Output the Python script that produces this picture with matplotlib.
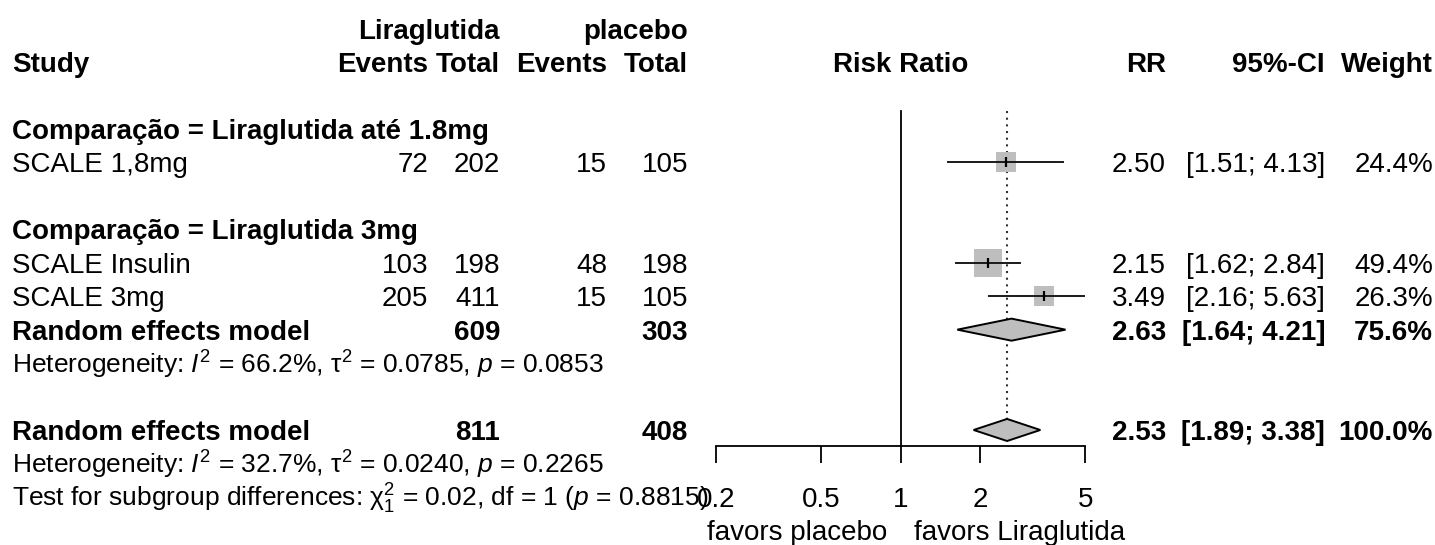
import numpy as np
import matplotlib.pyplot as plt
from matplotlib.patches import Polygon
from matplotlib.ticker import NullLocator, FixedLocator, FixedFormatter

plt.rcParams['font.family'] = ['Liberation Sans', 'DejaVu Sans']
plt.rcParams['mathtext.fontset'] = 'custom'
plt.rcParams['mathtext.rm'] = 'Liberation Sans'
plt.rcParams['mathtext.it'] = 'Liberation Sans:italic'
plt.rcParams['mathtext.bf'] = 'Liberation Sans:bold'

# ---- data ----
groups = ["Comparação = Liraglutida até 1.8mg", "Comparação = Liraglutida 3mg"]
studies = ["SCALE 1,8mg", "SCALE Insulin", "SCALE 3mg"]
ev_lira = [72, 103, 205]
n_lira = [202, 198, 411]
ev_plac = [15, 48, 15]
n_plac = [105, 198, 105]
rr = [2.50, 2.15, 3.49]
rr_lo = [1.51, 1.62, 2.16]
rr_hi = [4.13, 2.84, 5.63]
weight = [24.4, 49.4, 26.3]

# subgroup summary (group 2 only; group 1 has a single study)
sub_rr, sub_lo, sub_hi, sub_w = 2.63, 1.64, 4.21, 75.6
sub_n_lira, sub_n_plac = 609, 303
sub_het = r"Heterogeneity: $\mathit{I}^2$ = 66.2%, $\mathrm{\tau}^2$ = 0.0785, $\mathit{p}$ = 0.0853"

# overall
all_rr, all_lo, all_hi, all_w = 2.53, 1.89, 3.38, 100.0
all_n_lira, all_n_plac = 811, 408
all_het = r"Heterogeneity: $\mathit{I}^2$ = 32.7%, $\mathrm{\tau}^2$ = 0.0240, $\mathit{p}$ = 0.2265"
sub_test = r"Test for subgroup differences: $\mathrm{\chi}^2_1$ = 0.02, df = 1 ($\mathit{p}$ = 0.8815)"

xticks = [0.2, 0.5, 1, 2, 5]
xtick_labels = ["0.2", "0.5", "1", "2", "5"]

# ---- layout ----
W, H = 1435, 545
FS = 20
FS_HET = 19
ROW0, ROWH = 28.7, 33.44


def px2row(py):
    return (py - ROW0) / ROWH


fig = plt.figure(figsize=(W / 100, H / 100), dpi=100)
ylim = (px2row(H), px2row(0))

ax_t = fig.add_axes([0, 0, 1, 1])
ax_t.set_xlim(0, W)
ax_t.set_ylim(*ylim)
ax_t.axis('off')

X0, X1 = 715.7, 1085.3
ax = fig.add_axes([X0 / W, 0, (X1 - X0) / W, 1])
ax.set_xscale('log')
ax.set_xlim(0.2, 5)
ax.set_ylim(*ylim)
ax.patch.set_visible(False)

# columns (right edges, px)
C_STUDY, C_EV1, C_N1, C_EV2, C_N2 = 12, 428, 500, 607, 688
C_RR, C_CI, C_W = 1166, 1325, 1433
BASE = 0.3


def put(x, r, s, ha='right', bold=False, size=FS):
    ax_t.text(x, r + BASE, s, ha=ha, va='baseline', fontsize=size,
              fontweight='bold' if bold else 'normal')


def stats_cols(r, est, lo, hi, w, bold=False):
    put(C_RR, r, f"{est:.2f}", bold=bold)
    put(C_CI, r, f"[{lo:.2f}; {hi:.2f}]", bold=bold)
    put(C_W, r, f"{w:.1f}%", bold=bold)


# header
put(C_N1, 0, "Liraglutida", bold=True)
put(C_N2, 0, "placebo", bold=True)
put(C_STUDY, 1, "Study", ha='left', bold=True)
for x, s in [(C_EV1, "Events"), (C_N1, "Total"), (C_EV2, "Events"), (C_N2, "Total"),
             (C_RR, "RR"), (C_CI, "95%-CI"), (C_W, "Weight")]:
    put(x, 1, s, bold=True)
ax.text(1, 1 + BASE, "Risk Ratio", ha='center', va='baseline', fontsize=FS, fontweight='bold')

group_rows = [3, 6]
study_rows = [4, 7, 8]
sub_row, sub_het_row = 9, 10
all_row, all_het_row, test_row = 12, 13, 14

for g, r in zip(groups, group_rows):
    put(C_STUDY, r, g, ha='left', bold=True)

# reference and overall-effect lines
ax.plot([1, 1], [px2row(111), px2row(446)], color='black', lw=1.3, zorder=1)
DH = 0.33
ax.plot([all_rr, all_rr], [px2row(111), all_row - DH], color='#333333', lw=1.5,
        linestyle=(0, (1, 2.2)), zorder=1)

# studies
wmax = max(weight)
for i, r in enumerate(study_rows):
    put(C_STUDY, r, studies[i], ha='left')
    put(C_EV1, r, str(ev_lira[i]))
    put(C_N1, r, str(n_lira[i]))
    put(C_EV2, r, str(ev_plac[i]))
    put(C_N2, r, str(n_plac[i]))
    stats_cols(r, rr[i], rr_lo[i], rr_hi[i], weight[i])
    side = 28 * np.sqrt(weight[i] / wmax) * 0.72
    ax.plot(rr[i], r, marker='s', markersize=side, color='#bebebe', mew=0, zorder=2)
    ax.plot([rr_lo[i], rr_hi[i]], [r, r], color='#1a1a1a', lw=1.4, zorder=3)
    ax.plot(rr[i], r, marker='|', markersize=7, mew=1.6, color='black', zorder=4)


def diamond(est, lo, hi, r):
    ax.add_patch(Polygon([(lo, r), (est, r - DH), (hi, r), (est, r + DH)], closed=True,
                         facecolor='#bebebe', edgecolor='black', lw=1.4, zorder=3))


# subgroup summary
put(C_STUDY, sub_row, "Random effects model", ha='left', bold=True)
put(C_N1, sub_row, str(sub_n_lira), bold=True)
put(C_N2, sub_row, str(sub_n_plac), bold=True)
stats_cols(sub_row, sub_rr, sub_lo, sub_hi, sub_w, bold=True)
diamond(sub_rr, sub_lo, sub_hi, sub_row)
put(C_STUDY, sub_het_row, sub_het, ha='left', size=FS_HET)

# overall
put(C_STUDY, all_row, "Random effects model", ha='left', bold=True)
put(C_N1, all_row, str(all_n_lira), bold=True)
put(C_N2, all_row, str(all_n_plac), bold=True)
stats_cols(all_row, all_rr, all_lo, all_hi, all_w, bold=True)
diamond(all_rr, all_lo, all_hi, all_row)
put(C_STUDY, all_het_row, all_het, ha='left', size=FS_HET)
put(C_STUDY, test_row, sub_test, ha='left', size=FS_HET)

# x axis
for s in ['top', 'left', 'right']:
    ax.spines[s].set_visible(False)
ax.spines['bottom'].set_position(('data', px2row(446)))
ax.spines['bottom'].set_bounds(0.2, 5)
ax.spines['bottom'].set_linewidth(1.3)
ax.xaxis.set_major_locator(FixedLocator(xticks))
ax.xaxis.set_major_formatter(FixedFormatter(xtick_labels))
ax.xaxis.set_minor_locator(NullLocator())
ax.tick_params(axis='x', direction='out', length=12.2, width=1.3, pad=17.5, labelsize=FS)
ax.set_yticks([])

# direction labels
ax_t.text(887, px2row(540), "favors placebo", ha='right', va='baseline', fontsize=FS)
ax_t.text(914, px2row(540), "favors Liraglutida", ha='left', va='baseline', fontsize=FS)

fig.savefig("out.png", dpi=100)
